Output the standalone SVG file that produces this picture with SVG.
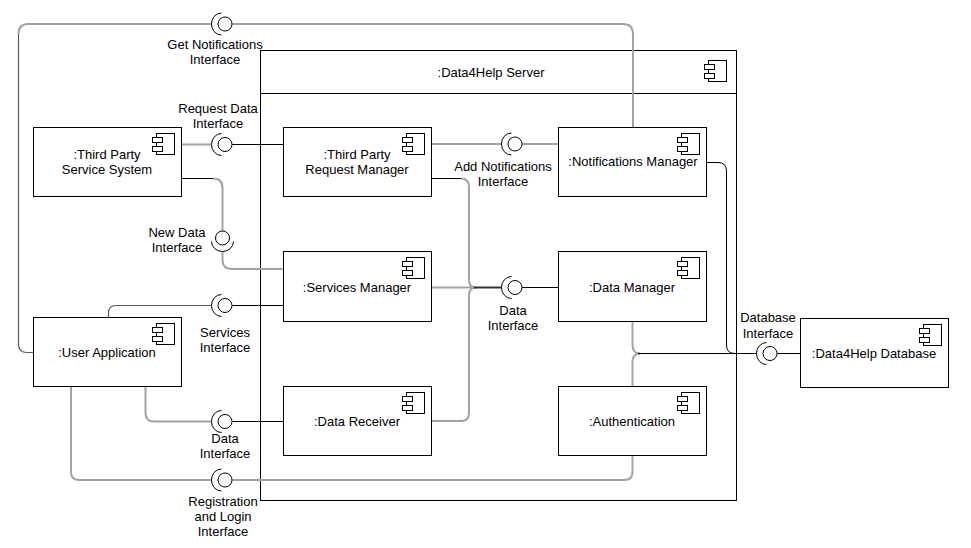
<svg xmlns="http://www.w3.org/2000/svg" width="971" height="548" viewBox="0 0 971 548">
<style>
text{font-family:"Liberation Sans",Arial,Helvetica,sans-serif;font-size:13px;fill:#000;text-anchor:middle}
.box{fill:#fff;stroke:#000;stroke-width:1}
.g{fill:none;stroke:#a3a3a3;stroke-width:2}
.m{fill:none;stroke:#5a5a5a;stroke-width:1.2}
.k{fill:none;stroke:#000;stroke-width:1}
.d{fill:none;stroke:#333;stroke-width:2}
.sk circle{fill:#fff;stroke:#000;stroke-width:1}
.sk path{fill:none;stroke:#000;stroke-width:1}
</style>
<defs>
<g id="icon">
<rect x="0" y="0" width="18" height="21" fill="#fff" stroke="#000" stroke-width="1"/>
<rect x="-4" y="4" width="10" height="5" fill="#fff" stroke="#000" stroke-width="1"/>
<rect x="-4" y="13" width="10" height="5" fill="#fff" stroke="#000" stroke-width="1"/>
</g>
<g id="sock" class="sk">
<path d="M -3.5 -11 A 10 11 0 0 0 -3.5 11"/>
<circle cx="0" cy="0" r="7"/>
</g>
</defs>
<rect width="971" height="548" fill="#fff"/>

<g id="server">
<rect class="box" x="260.5" y="50.5" width="476" height="450"/>
<line class="k" x1="260.5" y1="93.5" x2="736.5" y2="93.5"/>
<text x="491" y="76.5">:Data4Help Server</text>
<use href="#icon" transform="translate(708.5,60.5)"/>
</g>

<g id="connectors">
<path class="g" d="M 633 127.5 L 633 34 Q 633 24 623 24 L 232 24"/>
<path class="g" d="M 211.5 24 L 28 24 Q 18.5 24 18.5 34"/>
<path class="m" d="M 18.5 34 L 18.5 344 Q 18.5 352.5 27 352.5 L 33.5 352.5"/>
<path class="g" d="M 181.5 144.5 L 211.5 144.5"/>
<path class="k" d="M 232 144.5 L 283.5 144.5"/>
<path class="k" d="M 181.5 178.5 L 213 178.5"/>
<path class="g" d="M 213 178.5 Q 222.5 178.5 222.5 188 L 222.5 231"/>
<path class="g" d="M 222.5 251.5 L 222.5 260 Q 222.5 269 232 269 L 283.5 269"/>
<path class="m" d="M 108.5 317.5 L 108.5 313 Q 108.5 305.5 116 305.5 L 211.5 305.5"/>
<path class="k" d="M 232 305.5 L 283.5 305.5"/>
<path class="g" d="M 145.5 386.5 L 145.5 413 Q 145.5 421.5 154 421.5 L 211.5 421.5"/>
<path class="k" d="M 232 421.5 L 283.5 421.5"/>
<path class="g" d="M 71 386.5 L 71 472 Q 71 480 79 480 L 211.5 480"/>
<path class="g" d="M 232 480 L 624 480 Q 632.5 480 632.5 472 L 632.5 455.5"/>
<path class="g" d="M 431.5 144 L 501.5 144"/>
<path class="g" d="M 522 144 L 558.5 144"/>
<path class="k" d="M 431.5 178.5 L 461 178.5"/>
<path class="g" d="M 461 178.5 Q 469 178.5 469 187 L 469 280 Q 469 287.5 476 287.5"/>
<path class="g" d="M 431.5 287.5 L 476 287.5"/>
<path class="g" d="M 431.5 421 L 461 421 Q 469 421 469 413 L 469 295 Q 469 287.5 476 287.5"/>
<path class="d" d="M 474 287.5 L 501.5 287.5"/>
<path class="k" d="M 522 287.5 L 558.5 287.5"/>
<path class="g" d="M 632.5 321.5 L 632.5 345 Q 632.5 353.5 640 353.5"/>
<path class="g" d="M 632.5 386.5 L 632.5 362 Q 632.5 353.5 640 353.5"/>
<path class="k" d="M 638 353.5 L 756.5 353.5"/>
<path class="k" d="M 706.5 162.5 L 718 162.5 Q 726.5 162.5 726.5 171 L 726.5 345 Q 726.5 353.5 735 353.5"/>
<path class="k" d="M 777 353.5 L 800.5 353.5"/>
</g>

<g id="third-party-service-system">
<rect class="box" x="33.5" y="127.5" width="148" height="69"/>
<use href="#icon" transform="translate(156.5,133.5)"/>
<text x="107" y="158.5">:Third Party</text>
<text x="107" y="173.5">Service System</text>
</g>
<g id="user-application">
<rect class="box" x="33.5" y="317.5" width="148" height="69"/>
<use href="#icon" transform="translate(156.5,323.5)"/>
<text x="107" y="356.5">:User Application</text>
</g>
<g id="third-party-request-manager">
<rect class="box" x="283.5" y="127.5" width="148" height="69"/>
<use href="#icon" transform="translate(406.5,133.5)"/>
<text x="357" y="158.5">:Third Party</text>
<text x="357" y="173.5">Request Manager</text>
</g>
<g id="services-manager">
<rect class="box" x="283.5" y="251.5" width="148" height="70"/>
<use href="#icon" transform="translate(406.5,257.5)"/>
<text x="357" y="291.5">:Services Manager</text>
</g>
<g id="data-receiver">
<rect class="box" x="283.5" y="386.5" width="148" height="69"/>
<use href="#icon" transform="translate(406.5,392.5)"/>
<text x="357" y="425.5">:Data Receiver</text>
</g>
<g id="notifications-manager">
<rect class="box" x="558.5" y="127.5" width="148" height="69"/>
<use href="#icon" transform="translate(681.5,133.5)"/>
<text x="633" y="165.5">:Notifications Manager</text>
</g>
<g id="data-manager">
<rect class="box" x="558.5" y="251.5" width="148" height="70"/>
<use href="#icon" transform="translate(681.5,257.5)"/>
<text x="632" y="291.5">:Data Manager</text>
</g>
<g id="authentication">
<rect class="box" x="558.5" y="386.5" width="148" height="69"/>
<use href="#icon" transform="translate(681.5,392.5)"/>
<text x="632" y="425.5">:Authentication</text>
</g>
<g id="data4help-database">
<rect class="box" x="800.5" y="318.5" width="148" height="69"/>
<use href="#icon" transform="translate(923.5,324.5)"/>
<text x="874" y="357.5">:Data4Help Database</text>
</g>

<g id="get-notifications-interface">
<use href="#sock" transform="translate(225,24)"/>
<text x="215" y="48.5">Get Notifications</text>
<text x="215" y="63.5">Interface</text>
</g>
<g id="request-data-interface">
<use href="#sock" transform="translate(225,144.5)"/>
<text x="218" y="112.5">Request Data</text>
<text x="218" y="127.5">Interface</text>
</g>
<g id="new-data-interface">
<use href="#sock" transform="translate(222.5,238) rotate(-90)"/>
<text x="177" y="236.5">New Data</text>
<text x="177" y="251.5">Interface</text>
</g>
<g id="services-interface">
<use href="#sock" transform="translate(225,305.5)"/>
<text x="225" y="336.5">Services</text>
<text x="225" y="351.5">Interface</text>
</g>
<g id="data-interface-user">
<use href="#sock" transform="translate(225,421.5)"/>
<text x="225" y="442.5">Data</text>
<text x="225" y="457.5">Interface</text>
</g>
<g id="registration-login-interface">
<use href="#sock" transform="translate(225,480)"/>
<text x="223" y="505.5">Registration</text>
<text x="223" y="520.5">and Login</text>
<text x="223" y="535.5">Interface</text>
</g>
<g id="add-notifications-interface">
<use href="#sock" transform="translate(515,144)"/>
<text x="503" y="170.5">Add Notifications</text>
<text x="503" y="185.5">Interface</text>
</g>
<g id="data-interface-server">
<use href="#sock" transform="translate(515,287.5)"/>
<text x="513" y="314.5">Data</text>
<text x="513" y="329.5">Interface</text>
</g>
<g id="database-interface">
<use href="#sock" transform="translate(770,353.5)"/>
<text x="768" y="322">Database</text>
<text x="768" y="337.5">Interface</text>
</g>
</svg>
